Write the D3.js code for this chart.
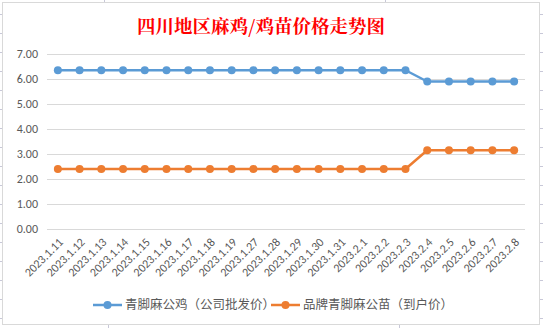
<!DOCTYPE html>
<html><head><meta charset="utf-8">
<script src="https://cdn.jsdelivr.net/npm/d3@7"></script>
<style>body{margin:0;background:#fff;}svg{display:block;}</style>
</head><body>
<script>
const title = "四川地区麻鸡/鸡苗价格走势图";
const categories = ["2023.1.11","2023.1.12","2023.1.13","2023.1.14","2023.1.15","2023.1.16","2023.1.17","2023.1.18","2023.1.19","2023.1.27","2023.1.28","2023.1.29","2023.1.30","2023.1.31","2023.2.1","2023.2.2","2023.2.3","2023.2.4","2023.2.5","2023.2.6","2023.2.7","2023.2.8"];
const seriesNames = ["青脚麻公鸡（公司批发价）","品牌青脚麻公苗（到户价）"];
const blueValues = [6.35,6.35,6.35,6.35,6.35,6.35,6.35,6.35,6.35,6.35,6.35,6.35,6.35,6.35,6.35,6.35,6.35,5.9,5.9,5.9,5.9,5.9];
const orangeValues = [2.4,2.4,2.4,2.4,2.4,2.4,2.4,2.4,2.4,2.4,2.4,2.4,2.4,2.4,2.4,2.4,2.4,3.15,3.15,3.15,3.15,3.15];
const yTicks = [0,1,2,3,4,5,6,7];
const colors = ["#5B9BD5","#ED7D31"];

const W = 543, H = 328;
const svg = d3.select("body").append("svg").attr("width", W).attr("height", H);
const font = "Calibri, Carlito, 'Noto Sans', 'Liberation Sans', sans-serif";

// faint spreadsheet grid outside chart
const g0 = svg.append("g").attr("stroke", "#c8c8d8").attr("stroke-width", 1);
[14,33,52,71,90,109,128,147,166,185,204,223,242,261,280,299,318].forEach(y => {
  g0.append("line").attr("x1", 0).attr("x2", 2).attr("y1", y + 0.5).attr("y2", y + 0.5);
  g0.append("line").attr("x1", 540).attr("x2", 543).attr("y1", y + 0.5).attr("y2", y + 0.5);
});
[104, 385].forEach(x => g0.append("line").attr("x1", x + 0.5).attr("x2", x + 0.5).attr("y1", 0).attr("y2", 2));
[108, 399].forEach(x => g0.append("line").attr("x1", x + 0.5).attr("x2", x + 0.5).attr("y1", 325).attr("y2", 328));

// chart frame
svg.append("rect").attr("x", 2.5).attr("y", 2.5).attr("width", 537).attr("height", 322)
  .attr("fill", "#fff").attr("stroke", "#d9d9d9").attr("stroke-width", 1);

const x = d3.scaleBand().domain(categories).range([47, 525]);
const y = d3.scaleLinear().domain([0, 7]).range([229, 54]);

// gridlines
svg.append("g").selectAll("line").data(yTicks).join("line")
  .attr("x1", 47).attr("x2", 525)
  .attr("y1", d => Math.round(y(d)) + 0.5).attr("y2", d => Math.round(y(d)) + 0.5)
  .attr("stroke", "#d9d9d9").attr("stroke-width", 1);

// y axis labels
const yAxis = d3.axisLeft(y).tickValues(yTicks).tickFormat(d3.format(".2f")).tickSize(0).tickPadding(0);
const ya = svg.append("g").attr("transform", "translate(38,0)").call(yAxis);
ya.select(".domain").remove();
ya.selectAll("text").attr("font-family", font).attr("font-size", 12).attr("fill", "#595959");

// x axis labels
const xAxis = d3.axisBottom(x).tickSize(0).tickPadding(0);
const xa = svg.append("g").attr("transform", "translate(0,229)").call(xAxis);
xa.select(".domain").remove();
xa.selectAll("text")
  .attr("font-family", font).attr("font-size", 12).attr("fill", "#595959")
  .attr("text-anchor", "end").attr("dy", "0.35em")
  .attr("transform", "translate(3,11) rotate(-45)");

// title
svg.append("text").attr("x", 261).attr("y", 33).attr("text-anchor", "middle")
  .attr("font-family", "'Noto Serif CJK SC','Noto Sans CJK SC', sans-serif").attr("font-weight", "bold")
  .attr("font-size", 18.5).attr("fill", "#FF0000").text(title);

// series
const cx = d => x(d) + x.bandwidth() / 2;
const line = d3.line().x(d => cx(d.c)).y(d => y(d.v));
[blueValues, orangeValues].forEach((vals, i) => {
  const data = categories.map((c, k) => ({c, v: vals[k]}));
  svg.append("path").datum(data).attr("d", line).attr("fill", "none")
    .attr("stroke", colors[i]).attr("stroke-width", 2.5).attr("stroke-linejoin", "round");
  svg.append("g").selectAll("circle").data(data).join("circle")
    .attr("cx", d => cx(d.c)).attr("cy", d => y(d.v)).attr("r", 4)
    .attr("fill", colors[i]);
});

// legend
const legend = [{x: 93, name: seriesNames[0]}, {x: 271, name: seriesNames[1]}];
legend.forEach((l, i) => {
  const g = svg.append("g");
  g.append("line").attr("x1", l.x).attr("x2", l.x + 29).attr("y1", 305).attr("y2", 305)
    .attr("stroke", colors[i]).attr("stroke-width", 2.5);
  g.append("circle").attr("cx", l.x + 14.5).attr("cy", 305).attr("r", 4).attr("fill", colors[i]);
  g.append("text").attr("x", l.x + 32).attr("y", 305).attr("dy", "0.35em")
    .attr("font-family", "'Noto Sans CJK SC', sans-serif").attr("font-size", 12.5)
    .attr("fill", "#595959").text(l.name);
});
</script>
</body></html>
